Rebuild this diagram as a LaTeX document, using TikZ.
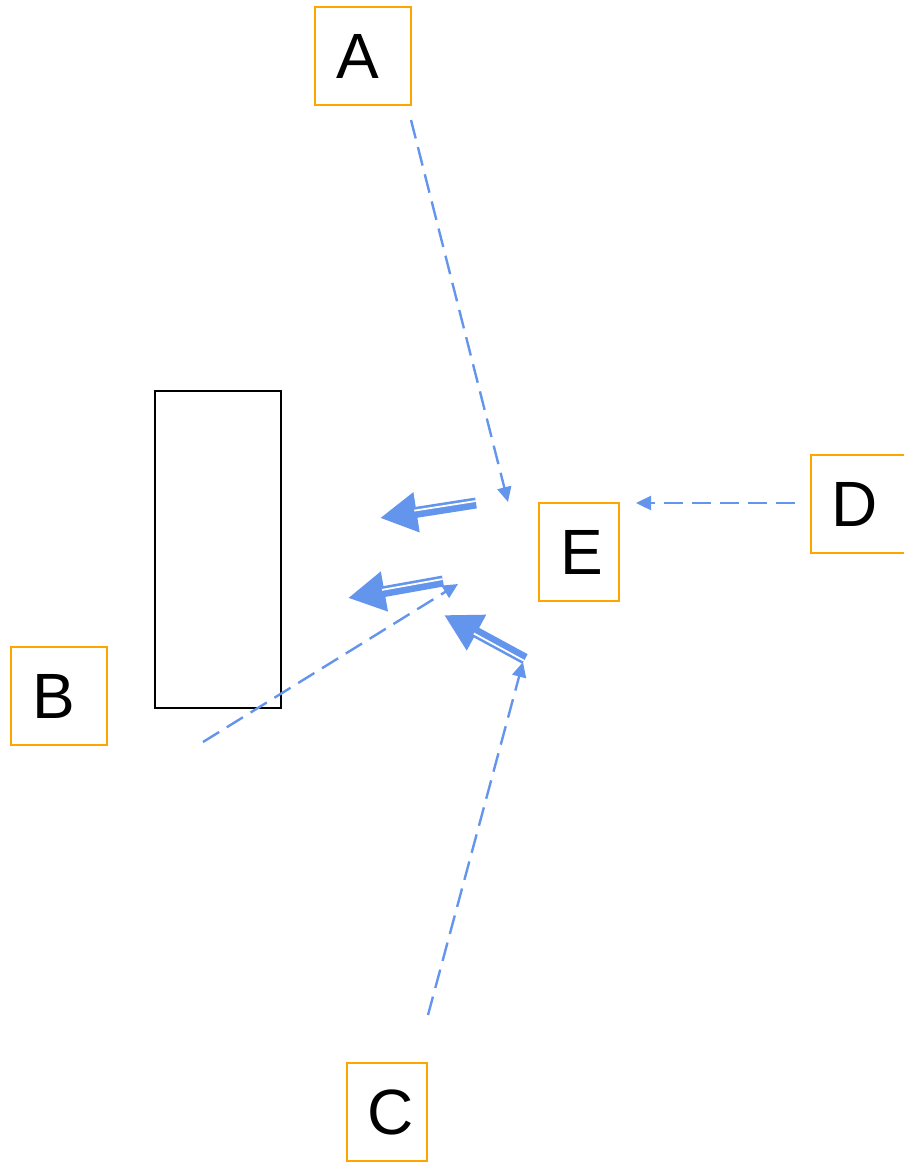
\documentclass[tikz,border=0pt]{standalone}
\usepackage{fontspec}
\setmainfont{Liberation Sans}
\usetikzlibrary{arrows.meta, calc}
\definecolor{bcol}{HTML}{6495ED}
\definecolor{ocol}{HTML}{FFA500}

\begin{document}
\begin{tikzpicture}[x=1pt, y=-1pt,
  box/.style={draw=ocol, line width=2.6pt, inner sep=0pt, minimum width=80pt, minimum height=98pt, font=\fontsize{64}{76}\selectfont},
  dashline/.style={bcol, line width=2.4pt, dash pattern=on 19pt off 9pt, -{Triangle[length=15pt, width=14pt]}},
  fatline/.style={bcol, line width=11pt, -{Triangle[length=37pt, width=38pt]}},
  gapline/.style={white, line width=1.8pt, shorten >=35pt}]
\useasboundingbox (0,0) rectangle (904,1164);
% boxes
\node[box, minimum width=96pt] (A) at (363,56) {A\kern11pt};
\node[box, minimum width=96pt] (B) at (59,696) {B\kern10pt};
\node[box] (C) at (387,1112) {\kern8pt C};
\node[box, minimum width=96pt] (D) at (859,504) {D\kern8pt};
\node[box] (E) at (579,552) {\kern5pt E};
\draw[black, line width=2.4pt] (155,391) rectangle (281,708);
% dashed ends
\coordinate (a0) at (411,120);
\coordinate (a1) at (508,502);
\coordinate (b0) at (203,742);
\coordinate (b1) at (458,584);
\coordinate (c0) at (428,1015);
\coordinate (c1) at (523,662);
\coordinate (d0) at (795,503);
\coordinate (d1) at (636,503);
\draw[dashline] (a0) -- (a1);
\draw[dashline] (b0) -- (b1);
\draw[dashline] (c0) -- (c1);
\draw[dashline] (d0) -- (d1);
% fat arrows
\coordinate (t1) at (476,503);
\coordinate (h1) at (380,518);
\coordinate (t2) at (443,581);
\coordinate (h2) at (348,598);
\coordinate (t3) at (525,659);
\coordinate (h3) at (444,615);
\draw[fatline] (t1) -- (h1);
\draw[gapline] ($(t1)!2pt!-90:(h1)$) -- ($(h1)!2pt!90:(t1)$);
\draw[fatline] (t2) -- (h2);
\draw[gapline] ($(t2)!2pt!-90:(h2)$) -- ($(h2)!2pt!90:(t2)$);
\draw[fatline] (t3) -- (h3);
\draw[gapline] ($(t3)!2pt!90:(h3)$) -- ($(h3)!2pt!-90:(t3)$);
\end{tikzpicture}
\end{document}
